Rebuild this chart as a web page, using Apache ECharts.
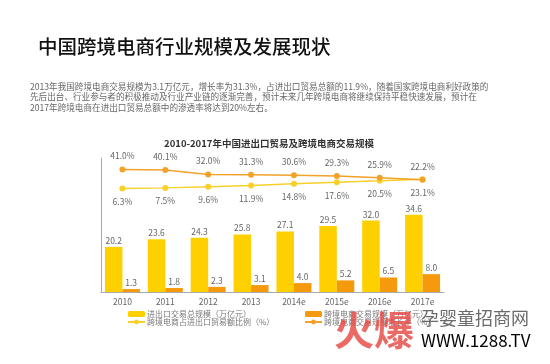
<!DOCTYPE html>
<html>
<head>
<meta charset="utf-8">
<script src="https://cdn.jsdelivr.net/npm/echarts@6/dist/echarts.min.js"></script>
<style>
html,body{margin:0;padding:0;background:#fff;}
#c{width:550px;height:364px;}
</style>
</head>
<body>
<div id="c"></div>
<script>
var categories = ['2010','2011','2012','2013','2014e','2015e','2016e','2017e'];
var tradeTotal = [20.2, 23.6, 24.3, 25.8, 27.1, 29.5, 32.0, 34.6];
var crossBorder = [1.3, 1.8, 2.3, 3.1, 4.0, 5.2, 6.5, 8.0];
var shareRatio = [6.3, 7.5, 9.6, 11.9, 14.8, 17.6, 20.5, 23.1];
var growthRate = [41.0, 40.1, 32.0, 31.3, 30.6, 29.3, 25.9, 22.2];
var seriesNames = ['进出口交易总规模（万亿元）','跨境电商交易规模（万亿元）','跨境电商占进出口贸易额比例（%）','跨境电商交易规模增长率（%）'];
var paragraph = [
  '2013年我国跨境电商交易规模为3.1万亿元，增长率为31.3%，占进出口贸易总额的11.9%，随着国家跨境电商利好政策的',
  '先后出台、行业参与者的积极推动及行业产业链的逐渐完善，预计未来几年跨境电商将继续保持平稳快速发展，预计在',
  '2017年跨境电商在进出口贸易总额中的渗透率将达到20%左右。'
];

var FF = '"Noto Sans CJK SC", "Noto Sans", sans-serif';
var YEL = '#FFD000';
var ORG = '#F59A0C';
var YEL_L = '#F7D12A';
var ORG_L = '#F2A22A';

var chart = echarts.init(document.getElementById('c'));
var paraGraphics = paragraph.map(function(t, i){
  return {type:'text', left:30, top:82 + i*10.5, style:{text:t, font:'8.6px ' + FF, fill:'#666'}};
});
chart.setOption({
  animation:false,
  textStyle:{fontFamily:FF},
  title:[
    {text:'中国跨境电商行业规模及发展现状', left:33, top:32, textStyle:{fontSize:19.5, fontWeight:500, color:'#111', fontFamily:FF}},
    {text:'2010-2017年中国进出口贸易及跨境电商交易规模', left:264, textAlign:'center', top:134, textStyle:{fontSize:9.5, fontWeight:'bold', color:'#333', fontFamily:FF}}
  ],
  graphic: paraGraphics.concat([
    {type:'text', left:334, top:310, z:100, style:{text:'火爆', font:'bold 40px ' + FF, fill:'rgba(232,80,74,0.85)'}},
    {type:'text', left:421, top:309, z:100, style:{text:'孕婴童招商网', font:'18px ' + FF, fill:'rgba(80,80,80,0.85)'}},
    {type:'text', left:421, top:332, z:100, style:{rich:{a:{fontSize:17, fontFamily:FF, color:'rgba(80,80,80,0.85)'}, b:{fontSize:17, fontFamily:FF, color:'rgba(232,80,74,0.85)'}}, text:'{a|WWW.}{b|1288.TV}'}}
  ]),
  legend:[
    {data:[seriesNames[0], seriesNames[2]], orient:'vertical', left:122, top:305, itemGap:0, itemWidth:17, itemHeight:6,
     textStyle:{fontSize:8, color:'#777', padding:[0,0,0,-3]}},
    {data:[seriesNames[1], seriesNames[3]], orient:'vertical', left:299, top:305, itemGap:0, itemWidth:17, itemHeight:6,
     textStyle:{fontSize:8, color:'#777', padding:[0,0,0,-3]}}
  ],
  grid:[
    {left:101, right:106, top:158, height:134},
    {left:101, right:106, top:137, height:55}
  ],
  xAxis:[
    {type:'category', gridIndex:0, data:categories, axisTick:{show:false},
     axisLine:{lineStyle:{color:'#aaa', width:1}},
     axisLabel:{fontSize:8.5, color:'#666', margin:6}},
    {type:'category', gridIndex:1, data:categories, show:false}
  ],
  yAxis:[
    {type:'value', gridIndex:0, min:0, max:60, axisLine:{show:true, lineStyle:{color:'#aaa'}}, axisTick:{show:false}, axisLabel:{show:false}, splitLine:{show:false}},
    {type:'value', gridIndex:1, min:0, max:100, show:false, splitLine:{show:false}}
  ],
  series:[
    {name:seriesNames[0], type:'bar', xAxisIndex:0, yAxisIndex:0, data:tradeTotal, barWidth:17.5, barGap:'0%',
     itemStyle:{color:YEL}, label:{show:true, position:'top', distance:2, fontSize:8.5, color:'#666', formatter:function(p){return p.value.toFixed(1);}}},
    {name:seriesNames[1], type:'bar', xAxisIndex:0, yAxisIndex:0, data:crossBorder, barWidth:17.5, barGap:'0%',
     itemStyle:{color:ORG}, label:{show:true, position:'top', distance:2, fontSize:8.5, color:'#666', formatter:function(p){return p.value.toFixed(1);}}},
    {name:seriesNames[2], type:'line', xAxisIndex:1, yAxisIndex:1, data:shareRatio, symbol:'circle', symbolSize:6,
     lineStyle:{color:YEL_L, width:1.5}, itemStyle:{color:YEL_L},
     label:{show:true, position:'bottom', distance:6, fontSize:8.5, color:'#666', formatter:function(p){return p.value.toFixed(1)+'%';}}},
    {name:seriesNames[3], type:'line', xAxisIndex:1, yAxisIndex:1, data:growthRate, symbol:'circle', symbolSize:6,
     lineStyle:{color:ORG_L, width:1.5}, itemStyle:{color:ORG_L},
     label:{show:true, position:'top', distance:6, fontSize:8.5, color:'#666', formatter:function(p){return p.value.toFixed(1)+'%';}}}
  ]
});
</script>
</body>
</html>
